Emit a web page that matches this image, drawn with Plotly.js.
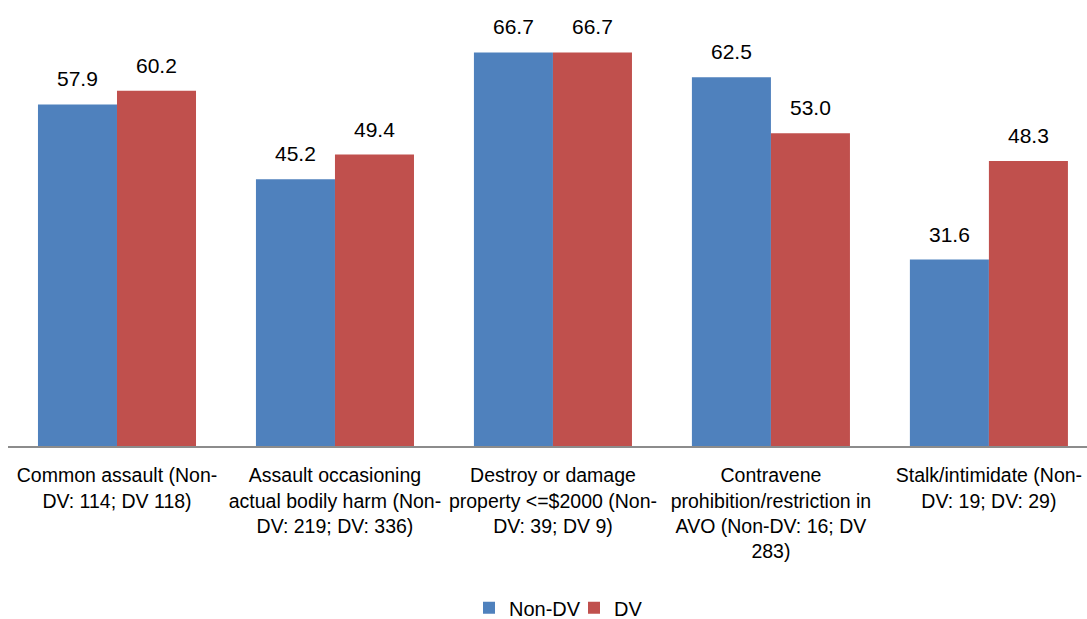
<!DOCTYPE html>
<html>
<head>
<meta charset="utf-8">
<script src="https://cdn.plot.ly/plotly-3.0.1.min.js"></script>
<style>html,body{margin:0;padding:0;background:#fff;}#chart{width:1087px;height:619px;}</style>
</head>
<body>
<div id="chart"></div>
<script>
const categories = [
  "Common assault (Non-<br>DV: 114; DV 118)",
  "Assault occasioning<br>actual bodily harm (Non-<br>DV: 219; DV: 336)",
  "Destroy or damage<br>property <=$2000 (Non-<br>DV: 39; DV 9)",
  "Contravene<br>prohibition/restriction in<br>AVO (Non-DV: 16; DV<br>283)",
  "Stalk/intimidate (Non-<br>DV: 19; DV: 29)"
];
const nonDV = [57.9, 45.2, 66.7, 62.5, 31.6];
const dv = [60.2, 49.4, 66.7, 53.0, 48.3];
const seriesNames = ["Non-DV", "DV"];

const FONT = '"Liberation Sans", Arial, sans-serif';
const idx = categories.map((_, i) => i);
const off = 0.725 / 4;

const traces = [
  {type: 'bar', name: seriesNames[0], x: idx, y: nonDV, marker: {color: '#4F81BD'}, hoverinfo: 'none', legend: 'legend'},
  {type: 'bar', name: seriesNames[1], x: idx, y: dv, marker: {color: '#C0504D'}, hoverinfo: 'none', legend: 'legend2'}
];

const annotations = [];
[nonDV, dv].forEach((vals, s) => {
  vals.forEach((v, i) => {
    annotations.push({
      x: i + (s === 0 ? -off : off), y: v, xref: 'x', yref: 'y',
      text: v.toFixed(1), showarrow: false, yanchor: 'bottom', yshift: 12,
      font: {family: FONT, size: 21, color: '#000'}
    });
  });
});

const legendBase = {
  orientation: 'h', xanchor: 'left', xref: 'container', yref: 'container', y: 0.018, yanchor: 'middle',
  font: {family: FONT, size: 20, color: '#000'}, itemwidth: 30, bgcolor: 'rgba(0,0,0,0)'
};

const layout = {
  width: 1087, height: 619,
  margin: {l: 8, r: 0, t: 33, b: 173},
  paper_bgcolor: '#fff', plot_bgcolor: '#fff',
  barmode: 'group', bargap: 0.275, bargroupgap: 0,
  font: {family: FONT, size: 20, color: '#000'},
  xaxis: {
    range: [-0.5, 4.45], tickmode: 'array', tickvals: idx, ticktext: categories,
    showline: true, linecolor: '#8c8c8c', linewidth: 2, ticks: '', showgrid: false,
    zeroline: false, tickfont: {family: FONT, size: 19.5, color: '#000'}, tickangle: 0,
    ticklabeloverflow: 'allow', ticklabelstandoff: 11
  },
  yaxis: {range: [0, 70], visible: false, showgrid: false, zeroline: false},
  showlegend: true,
  legend: Object.assign({}, legendBase, {x: 469 / 1087}),
  legend2: Object.assign({}, legendBase, {x: 574 / 1087}),
  annotations: annotations
};

Plotly.newPlot('chart', traces, layout, {displayModeBar: false, staticPlot: true});
</script>
</body>
</html>
